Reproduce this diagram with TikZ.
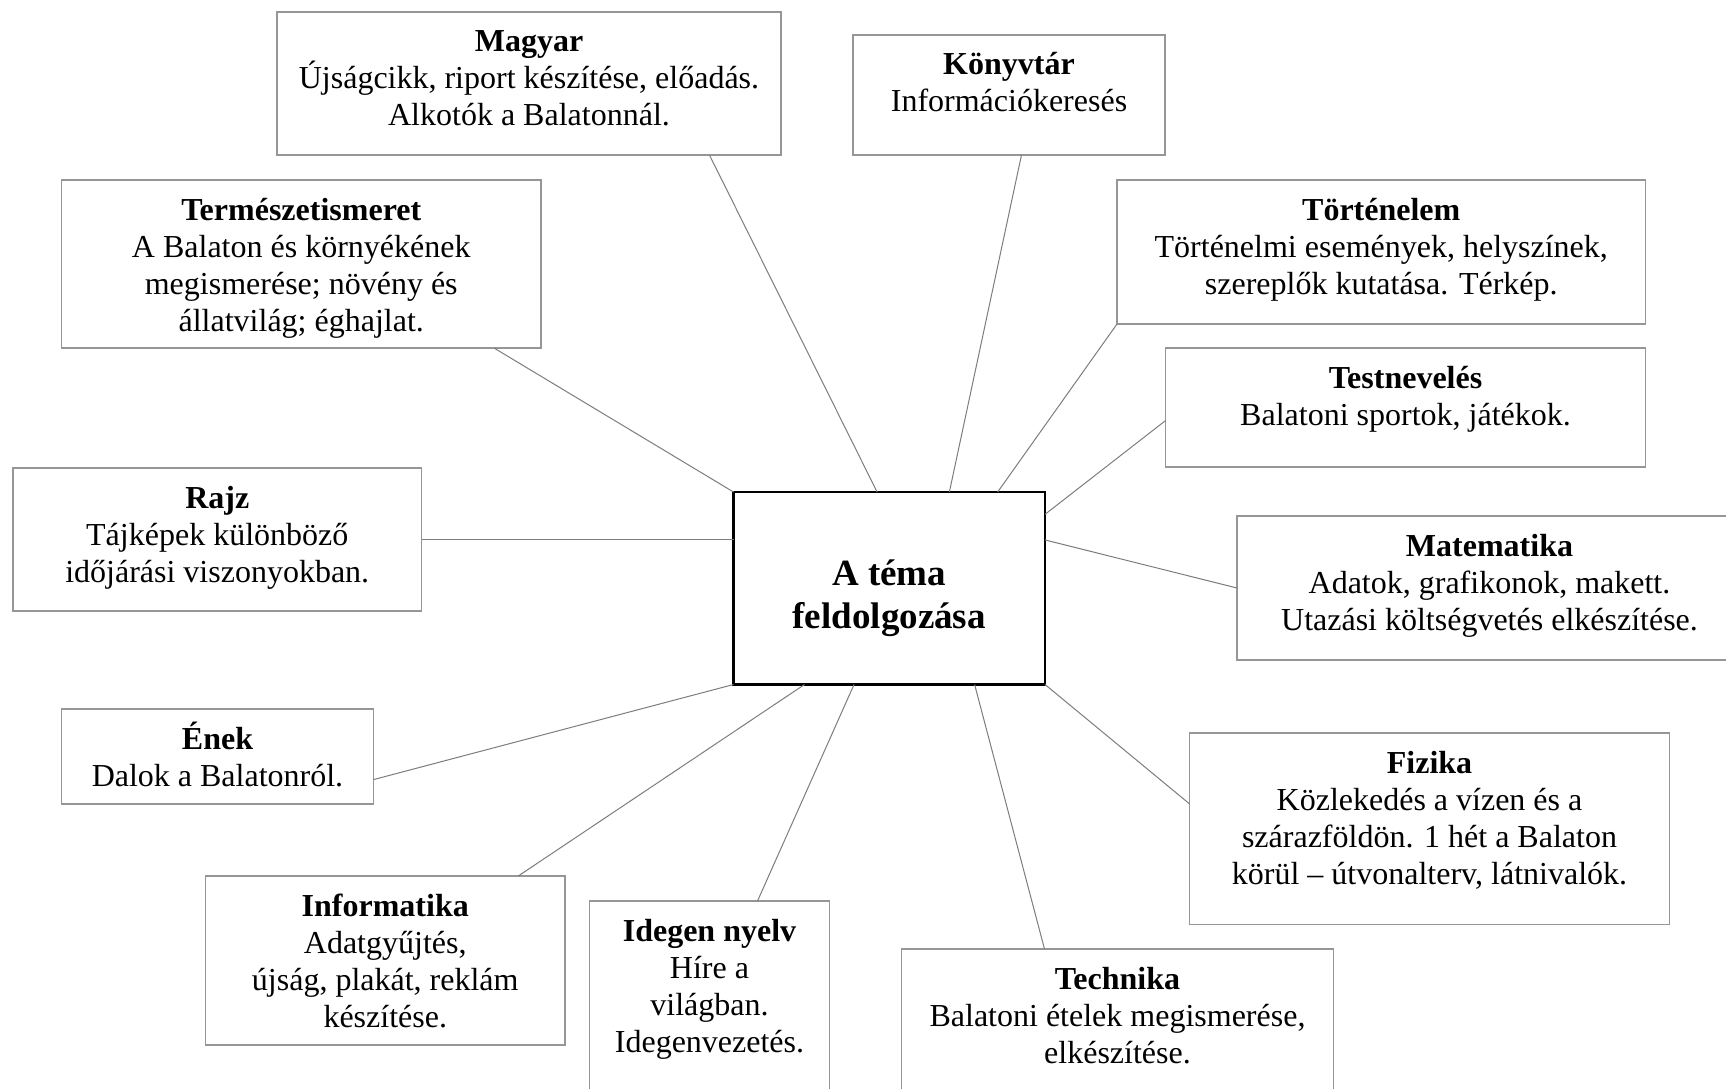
\documentclass[tikz,border=0pt]{standalone}
\usepackage{fontspec}
\setmainfont{Liberation Serif}
\usetikzlibrary{calc}
\definecolor{boxgray}{RGB}{150,150,150}
\definecolor{linkgray}{RGB}{125,125,125}
\newcommand\subjtext[4]{\begin{minipage}[c][#2][t]{#1}\centering\rule{0pt}{40pt}\textbf{#3}\\#4\end{minipage}}
\begin{document}
\begin{tikzpicture}[x=1pt,y=-1pt,
  subj/.style={draw=boxgray,line width=1.2pt,inner sep=0pt,outer sep=0pt,anchor=north west,font=\fontsize{32}{37}\selectfont},
  center/.style={draw=black,line width=2.5pt,inner sep=0pt,outer sep=0pt,minimum width=311.5pt,minimum height=192.5pt,align=center,font=\fontsize{37}{43}\selectfont\bfseries},
  link/.style={draw=linkgray,line width=1pt}]
\useasboundingbox (0,0) rectangle (1726,1089);
\fill[white] (0,0) rectangle (1726,1089);

\node[subj] (mag) at (277,12) {\subjtext{504pt}{143pt}{Magyar}{Újságcikk, riport készítése, előadás.\\Alkotók a Balatonnál.}};
\node[subj] (kon) at (853,35) {\subjtext{312pt}{120pt}{Könyvtár}{Információkeresés}};
\node[subj] (ter) at (61.5,180) {\subjtext{479.5pt}{168pt}{Természetismeret}{A Balaton és környékének\\megismerése; növény és\\állatvilág; éghajlat.}};
\node[subj] (tor) at (1117,180) {\subjtext{528.5pt}{144pt}{Történelem}{Történelmi események, helyszínek,\\szereplők kutatása. Térkép.}};
\node[subj] (tes) at (1165.5,348) {\subjtext{480pt}{119pt}{Testnevelés}{Balatoni sportok, játékok.}};
\node[subj] (raj) at (13,468) {\subjtext{408.5pt}{143pt}{Rajz}{Tájképek különböző\\időjárási viszonyokban.}};
\node[subj] (mat) at (1237,516) {\subjtext{505pt}{144pt}{Matematika}{Adatok, grafikonok, makett.\\Utazási költségvetés elkészítése.}};
\node[subj] (enek) at (61.5,709) {\subjtext{312pt}{95pt}{Ének}{Dalok a Balatonról.}};
\node[subj] (fiz) at (1189.5,733) {\subjtext{480pt}{191.5pt}{Fizika}{Közlekedés a vízen és a\\szárazföldön. 1 hét a Balaton\\körül – útvonalterv, látnivalók.}};
\node[subj] (inf) at (205.5,876) {\subjtext{359.5pt}{169pt}{Informatika}{Adatgyűjtés,\\újság, plakát, reklám\\készítése.}};
\node[subj] (ide) at (589.5,901) {\subjtext{240pt}{200pt}{Idegen nyelv}{Híre a\\világban.\\Idegenvezetés.}};
\node[subj] (tec) at (901.5,949) {\subjtext{432pt}{150pt}{Technika}{Balatoni ételek megismerése,\\elkészítése.}};

\node[center] (cen) at (889.25,588.25) {\rule{0pt}{46pt}A téma\\feldolgozása};

\draw[link] ($(mag.south west)!0.858!(mag.south east)$) -- ($(cen.north west)!0.461!(cen.north east)$);
\draw[link] ($(kon.south west)!0.54!(kon.south east)$) -- ($(cen.north west)!0.693!(cen.north east)$);
\draw[link] ($(ter.south west)!0.902!(ter.south east)$) -- (cen.north west);
\draw[link] (tor.south west) -- ($(cen.north west)!0.848!(cen.north east)$);
\draw[link] ($(tes.north west)!0.61!(tes.south west)$) -- ($(cen.north east)!0.116!(cen.south east)$);
\draw[link] (raj.east) -- (raj.east -| cen.west);
\draw[link] ($(cen.north east)!0.249!(cen.south east)$) -- (mat.west);
\draw[link] ($(enek.north east)!0.743!(enek.south east)$) -- (cen.south west);
\draw[link] ($(inf.north west)!0.87!(inf.north east)$) -- ($(cen.south west)!0.228!(cen.south east)$);
\draw[link] ($(ide.north west)!0.70!(ide.north east)$) -- ($(cen.south west)!0.387!(cen.south east)$);
\draw[link] ($(tec.north west)!0.331!(tec.north east)$) -- ($(cen.south west)!0.774!(cen.south east)$);
\draw[link] ($(fiz.north west)!0.37!(fiz.south west)$) -- (cen.south east);
\end{tikzpicture}
\end{document}
